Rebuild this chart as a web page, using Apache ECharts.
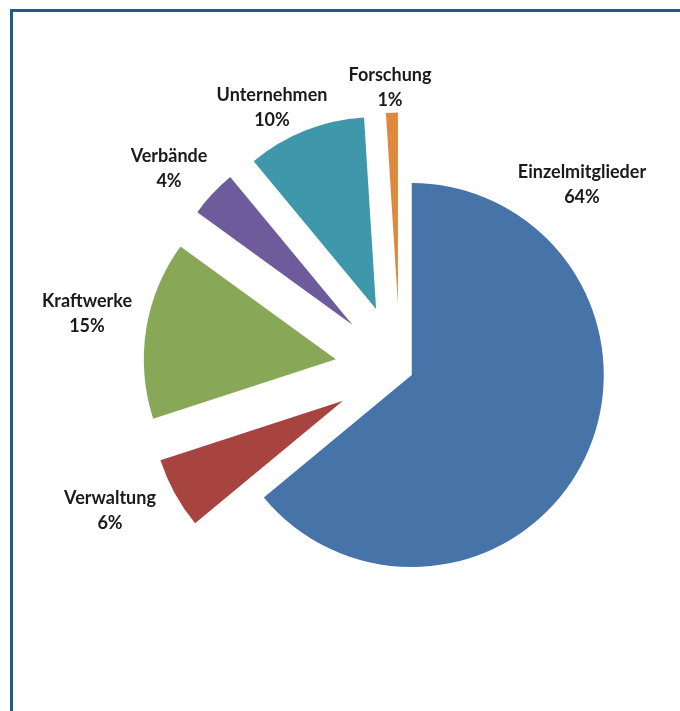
<!DOCTYPE html>
<html>
<head>
<meta charset="utf-8">
<title>Mitgliederstruktur</title>
<script src="https://cdn.jsdelivr.net/npm/echarts@6/dist/echarts.min.js"></script>
<style>
  html, body { margin: 0; padding: 0; background: #ffffff; }
  #chart { width: 680px; height: 711px; }
</style>
</head>
<body>
<div id="chart"></div>
<script>
// Member groups and their shares (percent)
const categories = ['Einzelmitglieder', 'Verwaltung', 'Kraftwerke', 'Verbände', 'Unternehmen', 'Forschung'];
const shares = [64, 6, 15, 4, 10, 1];

// Slice colours
const sliceColors = ['#4673A8', '#A8443F', '#88A857', '#6E5B9B', '#3E97AA', '#E0883E'];
// Label block centres, relative to the pie centre
const labelOffsets = [[182, -185], [-290, 141], [-313, -56], [-231, -201], [-128, -262], [-10, -282]];

const pieCenter = [400, 369.5];
const pieRadius = 192;
// The large slice is only nudged out a little; the small ones are pulled far out
const mainOffset = 13;
const smallOffset = 65;

const clear = 'rgba(0,0,0,0)';

const chart = echarts.init(document.getElementById('chart'), null, { renderer: 'canvas' });

// Shared pie geometry
const basePie = {
  type: 'pie',
  center: pieCenter,
  radius: pieRadius,
  startAngle: 90,
  clockwise: true,
  percentPrecision: 0,
  avoidLabelOverlap: false,
  emphasis: { disabled: true },
  itemStyle: { borderWidth: 0 },
  labelLine: { show: false }
};

// Slice layers: each one shows only its own group of slices, all pulled out
function sliceLayer(showMain, offset) {
  return Object.assign({}, basePie, {
    selectedMode: 'multiple',
    selectedOffset: offset,
    label: { show: false },
    data: categories.map((name, i) => ({
      name: name,
      value: shares[i],
      selected: true,
      itemStyle: { color: (i === 0) === showMain ? sliceColors[i] : clear }
    }))
  });
}

// Label layer: same angles, invisible slices, carries the name/percent texts
const labelLayer = Object.assign({}, basePie, {
  silent: true,
  label: {
    show: true,
    position: 'outside',
    formatter: '{b}\n{d}%',
    fontFamily: 'Lato',
    fontWeight: 'bold',
    fontSize: 18,
    lineHeight: 25,
    color: '#1a1a1a',
    align: 'center'
  },
  labelLayout: function (params) {
    const off = labelOffsets[params.dataIndex];
    return {
      x: pieCenter[0] + off[0],
      y: pieCenter[1] + off[1],
      align: 'center',
      verticalAlign: 'middle'
    };
  },
  data: categories.map((name, i) => ({
    name: name,
    value: shares[i],
    itemStyle: { color: clear }
  }))
});

chart.setOption({
  animation: false,
  backgroundColor: '#ffffff',
  graphic: [
    // frame along the top and left edges
    { type: 'rect', shape: { x: 10, y: 9, width: 670, height: 3 }, style: { fill: '#1E5B8E' }, silent: true },
    { type: 'rect', shape: { x: 10, y: 9, width: 3, height: 702 }, style: { fill: '#1E5B8E' }, silent: true }
  ],
  series: [sliceLayer(true, mainOffset), sliceLayer(false, smallOffset), labelLayer]
});
</script>
</body>
</html>
